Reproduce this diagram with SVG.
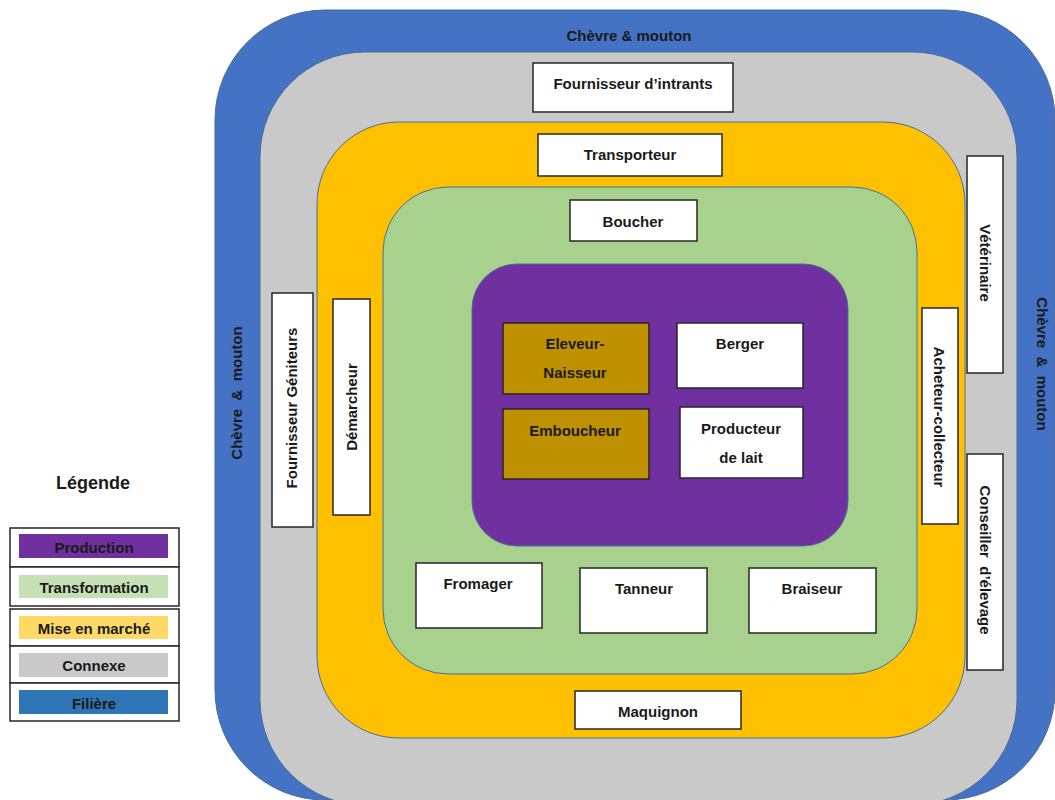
<svg xmlns="http://www.w3.org/2000/svg" width="1055" height="800" viewBox="0 0 1055 800">
<style>
.band{stroke:#4a6e96;stroke-width:1}
.box{fill:#ffffff;stroke:#262626;stroke-width:1.5}
.gold{fill:#bf9000;stroke:#262626;stroke-width:1.5}
.t{font-family:"Liberation Sans",Arial,sans-serif;font-weight:bold;font-size:15px;fill:#1a1a1a;text-anchor:middle;dominant-baseline:central}
.pre{white-space:pre}
.cell{fill:#ffffff;stroke:#262626;stroke-width:1.5}
</style>
<rect width="1055" height="800" fill="#ffffff"/>
<g id="layers">
<rect id="filiere" class="band" x="215" y="10" width="840" height="790" rx="110" fill="#4472c4"/>
<rect id="connexe" class="band" x="260" y="52" width="757" height="753" rx="105" fill="#c9c9c9"/>
<rect id="mise-en-marche" class="band" x="317" y="122" width="648" height="616" rx="82" fill="#ffc000"/>
<rect id="transformation" class="band" x="383" y="187" width="534" height="487" rx="65" fill="#a9d18e"/>
<rect id="production" class="band" x="472" y="264" width="376" height="282" rx="45" fill="#7030a0"/>
</g>
<g id="layer-labels">
<text class="t" x="629" y="35">Chèvre &amp; mouton</text>
<text class="t pre" xml:space="preserve" transform="translate(236,393) rotate(-90)">Chèvre  &amp;  mouton</text>
<text class="t pre" xml:space="preserve" transform="translate(1042,364) rotate(90)">Chèvre  &amp;  mouton</text>
</g>
<g id="n-fournisseur-intrants"><rect class="box" x="533" y="63" width="200" height="49"/><text class="t" x="633" y="83">Fournisseur d’intrants</text></g>
<g id="n-transporteur"><rect class="box" x="538" y="134" width="184" height="42"/><text class="t" x="630" y="154">Transporteur</text></g>
<g id="n-boucher"><rect class="box" x="570" y="200" width="127" height="41"/><text class="t" x="633" y="221">Boucher</text></g>
<g id="n-eleveur"><rect class="gold" x="503" y="323" width="146" height="71"/><text class="t" x="575" y="343">Eleveur-</text><text class="t" x="575" y="372">Naisseur</text></g>
<g id="n-berger"><rect class="box" x="677" y="323" width="126" height="65"/><text class="t" x="740" y="343">Berger</text></g>
<g id="n-emboucheur"><rect class="gold" x="503" y="409" width="146" height="70"/><text class="t" x="575" y="430">Emboucheur</text></g>
<g id="n-producteur-lait"><rect class="box" x="680" y="407" width="123" height="71"/><text class="t" x="741" y="428">Producteur</text><text class="t" x="741" y="457">de lait</text></g>
<g id="n-fromager"><rect class="box" x="416" y="563" width="126" height="65"/><text class="t" x="478" y="583">Fromager</text></g>
<g id="n-tanneur"><rect class="box" x="580" y="568" width="127" height="65"/><text class="t" x="644" y="588">Tanneur</text></g>
<g id="n-braiseur"><rect class="box" x="749" y="568" width="127" height="65"/><text class="t" x="812" y="588">Braiseur</text></g>
<g id="n-maquignon"><rect class="box" x="575" y="691" width="166" height="38"/><text class="t" x="658" y="711">Maquignon</text></g>
<g id="n-fournisseur-geniteurs"><rect class="box" x="272" y="293" width="41" height="234"/><text class="t" transform="translate(291,408) rotate(-90)">Fournisseur Géniteurs</text></g>
<g id="n-demarcheur"><rect class="box" x="333" y="299" width="37" height="216"/><text class="t" transform="translate(351,407) rotate(-90)">Démarcheur</text></g>
<g id="n-acheteur"><rect class="box" x="922" y="308" width="36" height="216"/><text class="t" transform="translate(939,417) rotate(90)">Acheteur-collecteur</text></g>
<g id="n-veterinaire"><rect class="box" x="967" y="156" width="36" height="217"/><text class="t" transform="translate(985,263) rotate(90)">Vétérinaire</text></g>
<g id="n-conseiller"><rect class="box" x="967" y="454" width="36" height="216"/><text class="t pre" xml:space="preserve" transform="translate(985,560) rotate(90)">Conseiller  d’élevage</text></g>
<g id="connectors"></g>
<g id="legend">
<text class="t" x="93" y="483" style="font-size:18px">Légende</text>
<rect class="cell" x="10" y="528" width="169" height="39"/>
<rect class="cell" x="10" y="567" width="169" height="39"/>
<rect class="cell" x="10" y="609" width="169" height="37"/>
<rect class="cell" x="10" y="646" width="169" height="37"/>
<rect class="cell" x="10" y="683" width="169" height="38"/>
<rect x="19" y="534" width="149" height="24" fill="#7030a0"/>
<rect x="19" y="575" width="149" height="23" fill="#c5e0b4"/>
<rect x="19" y="616" width="149" height="23" fill="#ffd966"/>
<rect x="19" y="653" width="149" height="24" fill="#c9c9c9"/>
<rect x="19" y="690" width="149" height="24" fill="#2e75b6"/>
<text class="t" x="94" y="547">Production</text>
<text class="t" x="94" y="587">Transformation</text>
<text class="t" x="94" y="628">Mise en marché</text>
<text class="t" x="94" y="665">Connexe</text>
<text class="t" x="94" y="703">Filière</text>
</g>
</svg>
